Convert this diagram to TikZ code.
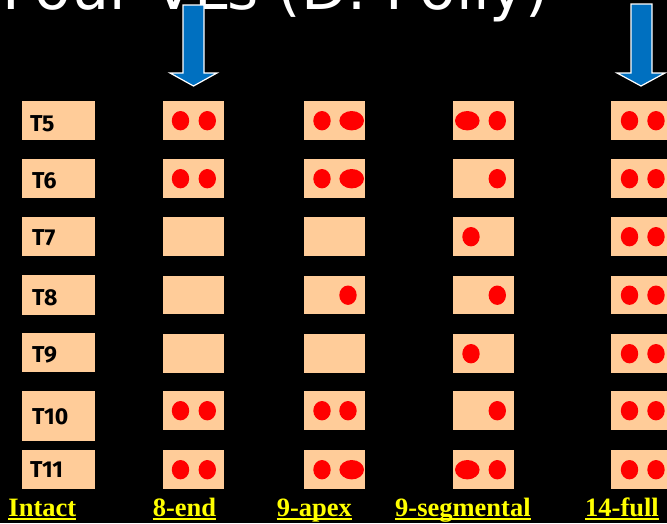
\documentclass[tikz,border=0pt]{standalone}
\usepackage{fontspec}
\setmainfont{Liberation Serif}
\newfontfamily\lblfont{Fira Sans}
\newfontfamily\ttlfont{DejaVu Sans}
\definecolor{peach}{HTML}{FFCC99}
\definecolor{arrowblue}{HTML}{0070C0}
\definecolor{labyellow}{HTML}{FFFF00}
\definecolor{dotred}{HTML}{FF0000}
\newcommand\dotL[2]{\fill[dotred] ([xshift=#2pt]#1.west) ellipse (8.7 and 9.7);}
\newcommand\dotW[2]{\fill[dotred] ([xshift=#2pt]#1.west) ellipse (12.3 and 9.7);}
\begin{document}
\begin{tikzpicture}[x=1pt,y=-1pt,
  cell/.style={fill=peach, inner sep=0, minimum width=61pt, minimum height=39pt, anchor=north west},
  lcell/.style={cell, minimum width=73pt},
  lbl/.style={anchor=base west, inner sep=0, text=black, font=\lblfont\bfseries\fontsize{23}{23}\selectfont},
  captext/.style={anchor=base west, inner sep=0, text=labyellow, font=\bfseries\fontsize{26.5}{26.5}\selectfont},
  uline/.style={draw=labyellow, line width=2pt},
  bigarrow/.style={fill=arrowblue, draw=white, line width=1.2pt}]
\useasboundingbox (0,0) rectangle (667,523);
\fill[black] (0,0) rectangle (667,523);
\clip (0,0) rectangle (667,523);
% title (mostly cut off at the top edge, as in the reference)
\node[anchor=base west, inner sep=0, text=white, font=\ttlfont\fontsize{60}{60}\selectfont] (title) at (2,9.5) {Four VLs (D. Polly)};
% column 1 : labels
\node[lcell] (a5) at (22,101) {};
\node[lcell] (a6) at (22,159) {};
\node[lcell] (a7) at (22,217) {};
\node[lcell, minimum height=40pt] (a8) at (22,275) {};
\node[lcell] (a9) at (22,333) {};
\node[lcell, minimum height=50pt] (a10) at (22,391) {};
\node[lcell] (a11) at (22,450) {};
\node[lbl] (t5) at (30,131) {T5};
\node[lbl] (t6) at (32,188) {T6};
\node[lbl] (t7) at (32,245) {T7};
\node[lbl] (t8) at (32,305) {T8};
\node[lbl] (t9) at (32,362) {T9};
\node[lbl] (t10) at (32,424) {T10};
\node[lbl] (t11) at (30,477) {T11};
% columns 2-5
\foreach \c/\x in {b/163,c/304,d/453,e/611}{
  \node[cell] (\c5) at (\x,101) {};
  \node[cell] (\c6) at (\x,159) {};
  \node[cell] (\c7) at (\x,217) {};
  \node[cell, minimum height=38pt] (\c8) at (\x,276) {};
  \node[cell] (\c9) at (\x,334) {};
  \node[cell] (\c10) at (\x,391) {};
  \node[cell] (\c11) at (\x,450) {};
}
% 8-end
\dotL{b5}{17.5}\dotL{b5}{44.3}
\dotL{b6}{17.5}\dotL{b6}{44.3}
\dotL{b10}{17.5}\dotL{b10}{44.3}
\dotL{b11}{17.5}\dotL{b11}{44.3}
% 9-apex
\dotL{c5}{18}\dotW{c5}{47.7}
\dotL{c6}{18}\dotW{c6}{47.7}
\dotL{c8}{44}
\dotL{c10}{18}\dotL{c10}{44}
\dotL{c11}{18}\dotW{c11}{47.7}
% 9-segmental
\dotW{d5}{14.3}\dotL{d5}{44.3}
\dotL{d6}{44.3}
\dotL{d7}{18}
\dotL{d8}{44.3}
\dotL{d9}{18}
\dotL{d10}{44.3}
\dotW{d11}{14.3}\dotL{d11}{44.3}
% 14-full
\foreach \r in {5,...,11}{\dotL{e\r}{18.5}\dotL{e\r}{45}}
% arrows
\filldraw[bigarrow] (183,5) -- (204,5) -- (204,73) -- (217,73) -- (193.5,86) -- (170,73) -- (183,73) -- cycle;
\filldraw[bigarrow] (631,4) -- (652,4) -- (652,73) -- (665,73) -- (641,86) -- (617,73) -- (631,73) -- cycle;
% captions
\node[captext] (i1) at (8.3,516.5) {Intact};
\node[captext] (i2) at (152.7,516.5) {8-end};
\node[captext] (i3) at (276.7,516.5) {9-apex};
\node[captext] (i4) at (395,516.5) {9-segmental};
\node[captext] (i5) at (585,516.5) {14-full};
\foreach \n in {i1,i2,i3,i4,i5}{
  \draw[uline] ([yshift=-2.8pt]\n.base west) -- ([yshift=-2.8pt]\n.base east);
}
\end{tikzpicture}
\end{document}
